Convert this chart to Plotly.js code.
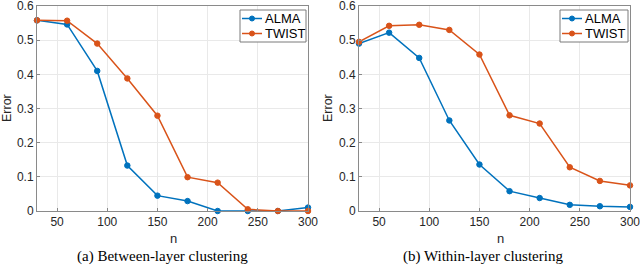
<!DOCTYPE html>
<html>
<head>
<meta charset="utf-8">
<script src="https://cdn.plot.ly/plotly-3.0.1.min.js"></script>
<style>html,body{margin:0;padding:0;background:#fff;}#chart{width:640px;height:268px;}</style>
</head>
<body>
<div id="chart"></div>
<script>
const n = [30, 60, 90, 120, 150, 180, 210, 240, 270, 300];
const almaA = [0.558, 0.546, 0.410, 0.133, 0.045, 0.029, 0.0, 0.0, 0.0, 0.010];
const twistA = [0.558, 0.557, 0.490, 0.388, 0.279, 0.099, 0.083, 0.005, 0.0, 0.0];
const almaB = [0.490, 0.522, 0.448, 0.265, 0.136, 0.058, 0.038, 0.018, 0.014, 0.012];
const twistB = [0.495, 0.542, 0.545, 0.530, 0.458, 0.280, 0.256, 0.128, 0.088, 0.075];
const seriesNames = ["ALMA", "TWIST"];
const xTicks = [50, 100, 150, 200, 250, 300];
const yTicks = [0, 0.1, 0.2, 0.3, 0.4, 0.5, 0.6];
const captions = ["(a) Between-layer clustering", "(b) Within-layer clustering"];

(function () {
const blue = "#0072BD", orange = "#D95319";
const colors = [blue, orange];
function tr(y, name, color, xa, ya) {
  return {x: n, y: y, name: name, type: "scatter", mode: "lines+markers",
    xaxis: xa, yaxis: ya, showlegend: false, cliponaxis: false,
    line: {color: color, width: 1.5},
    marker: {symbol: "circle", size: 5.5, color: color, line: {color: color, width: 1}}};
}
const data = [
  tr(almaA, seriesNames[0], blue, "x", "y"),
  tr(twistA, seriesNames[1], orange, "x", "y"),
  tr(almaB, seriesNames[0], blue, "x2", "y2"),
  tr(twistB, seriesNames[1], orange, "x2", "y2")
];
const W = 640, H = 268;
const yTop = 1 - 6 / H, yBot = 1 - 211 / H;
const sans = "Liberation Sans, Arial, sans-serif";
const tickFont = {family: sans, size: 12, color: "#262626"};
function xax(d, anchor) {
  return {domain: d, anchor: anchor, range: [30, 300], tickvals: xTicks, ticks: "inside", ticklen: 3,
    tickcolor: "#888", showgrid: true, gridcolor: "#e9e9e9", zeroline: false, ticklabeloverflow: "allow",
    showline: true, linecolor: "#8a8a8a", linewidth: 1, mirror: true, tickfont: tickFont, fixedrange: true};
}
function yax(anchor) {
  return {domain: [yBot, yTop], anchor: anchor, range: [0, 0.6], tickvals: yTicks, ticktext: yTicks.map(String),
    ticks: "inside", ticklen: 3, tickcolor: "#888", showgrid: true, gridcolor: "#e9e9e9", zeroline: false,
    ticklabeloverflow: "allow",
    showline: true, linecolor: "#8a8a8a", linewidth: 1, mirror: true, tickfont: tickFont, fixedrange: true};
}
const ann = [], shapes = [];
const px = x => x / W, py = y => 1 - y / H;
function txt(x, y, t, font, rot, anchor) {
  ann.push({xref: "paper", yref: "paper", x: px(x), y: py(y), text: t, showarrow: false,
    xanchor: anchor || "center", yanchor: "middle", font: font, textangle: rot || 0});
}
const titleFont = {family: sans, size: 12.5, color: "#262626"};
const capFont = {family: "Liberation Serif, Times New Roman, serif", size: 15, color: "#000"};
txt(7, 108, "Error", titleFont, -90);
txt(328, 108, "Error", titleFont, -90);
txt(173, 238, "n", {family: sans, size: 13, color: "#262626"});
txt(500, 238, "n", {family: sans, size: 13, color: "#262626"});
txt(162, 256, captions[0], capFont);
txt(483, 256, captions[1], capFont);

// legends (decoration)
function legend(x0, x1, y0, y1) {
  shapes.push({type: "rect", xref: "paper", yref: "paper", x0: px(x0), x1: px(x1), y0: py(y0), y1: py(y1),
    fillcolor: "#fff", line: {color: "#7a7a7a", width: 1}, layer: "above"});
  const rows = [y0 + 8.5, y0 + 23.5];
  rows.forEach((ry, i) => {
    shapes.push({type: "line", xref: "paper", yref: "paper", x0: px(x0 + 2), x1: px(x0 + 22), y0: py(ry), y1: py(ry),
      line: {color: colors[i], width: 1.5}, layer: "above"});
    shapes.push({type: "circle", xref: "paper", yref: "paper", x0: px(x0 + 9.5), x1: px(x0 + 14.5),
      y0: py(ry - 2.5), y1: py(ry + 2.5), fillcolor: colors[i], line: {color: colors[i], width: 1}, layer: "above"});
    txt(x0 + 23, ry, seriesNames[i], {family: sans, size: 13, color: "#000"}, 0, "left");
  });
}
legend(240, 306, 10, 42);
legend(560, 628, 10, 42);

const layout = {
  width: W, height: H, margin: {l: 0, r: 0, t: 0, b: 0},
  paper_bgcolor: "#fff", plot_bgcolor: "#fff",
  xaxis: xax([37 / W, 308 / W], "y"),
  yaxis: yax("x"),
  xaxis2: xax([359 / W, 630 / W], "y2"),
  yaxis2: yax("x2"),
  annotations: ann, shapes: shapes,
  showlegend: false
};
Plotly.newPlot("chart", data, layout, {displayModeBar: false, staticPlot: true});
})();
</script>
</body>
</html>
